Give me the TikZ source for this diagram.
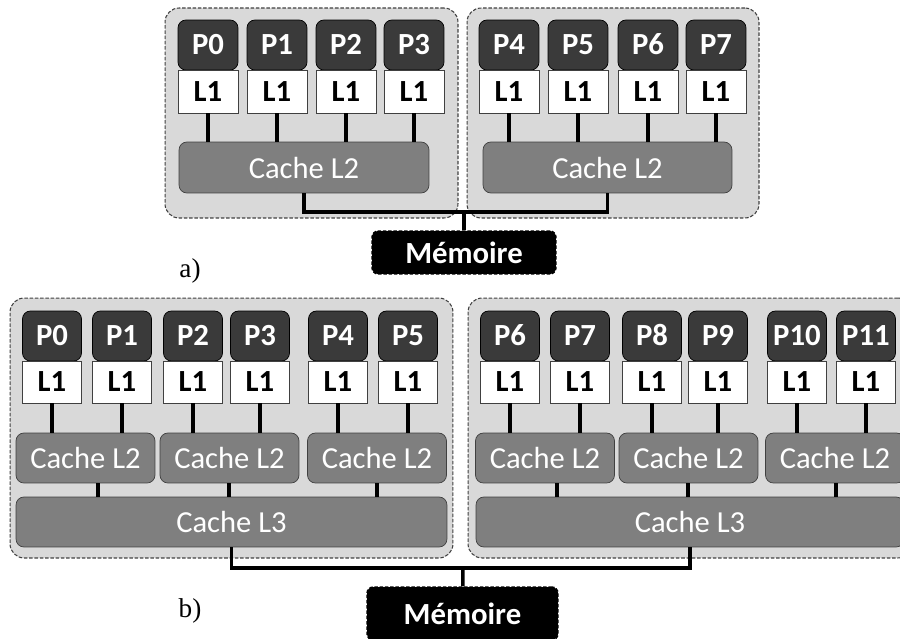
\documentclass[tikz,border=0pt]{standalone}
\usepackage{fontspec}
\setmainfont{Carlito}[Numbers=Lining]
\newfontfamily\serifabc{Liberation Serif}
\definecolor{procgray}{HTML}{3A3A3A}
\definecolor{cachegray}{HTML}{7F7F7F}
\definecolor{groupgray}{HTML}{D9D9D9}
\definecolor{edgegray}{HTML}{404040}

\begin{document}
\begin{tikzpicture}[x=0.02cm,y=-0.02cm,
    group/.style={draw=edgegray,dash pattern=on 2pt off 1pt,fill=groupgray,%
      rounded corners=8pt,inner sep=0pt,line width=0.6pt},
    proc/.style={draw=black,fill=procgray,rounded corners=4.5pt,text=white,%
      inner sep=0pt,minimum height=1cm,text height=11.3pt,text depth=0pt,%
      font=\bfseries\fontsize{17.5}{20}\selectfont},
    lone/.style={draw=edgegray,fill=white,inner sep=0pt,%
      text height=11.3pt,text depth=0pt,%
      font=\bfseries\fontsize{17.5}{20}\selectfont},
    cache/.style={draw=edgegray,fill=cachegray,rounded corners=4.5pt,text=white,%
      inner sep=0pt,minimum height=1cm,font=\fontsize{17.4}{20}\selectfont},
    mem/.style={draw=black,dash pattern=on 2pt off 1pt,fill=black,%
      rounded corners=3.5pt,text=white,inner sep=0pt,line width=0.8pt,%
      font=\bfseries\fontsize{17.5}{20}\selectfont},
    wire/.style={line width=2pt}]
  \useasboundingbox (0,0) rectangle (900,639);
  \clip (0,0) rectangle (900,639);

  % a) deux groupes de quatre coeurs
  \node[group,minimum width=5.86cm,minimum height=4.2cm] (aG0) at (311.5,113) {};
  \node[group,minimum width=5.84cm,minimum height=4.2cm] (aG1) at (613,113) {};
  \node[cache,minimum width=5cm,minimum height=1.02cm] (aC0) at (304,167.5) {Cache L2};
  \node[cache,minimum width=4.98cm,minimum height=1.02cm] (aC1) at (607.5,167.5) {Cache L2};
  \foreach \i/\x/\c in {0/208/0,1/277/0,2/346/0,3/414/0,%
    4/509/1,5/578/1,6/648/1,7/716/1}{
    \node[proc,minimum width=1.2cm] (aP\i) at (\x,45) {P\i};
    \node[lone,minimum width=1.2cm,minimum height=0.86cm] (aL\i) at (\x,91.5) {L1};
    \draw[wire] (aL\i.south) -- (aL\i.south |- aC\c.north);
  }
  \node[mem,minimum width=3.68cm,minimum height=0.86cm] (aM) at (464,252.5) {Mémoire};
  \coordinate (aJ) at (464,212);
  \draw[wire] (aC0.south) |- (aJ) -| (aC1.south);
  \draw[wire] (aJ) -- (aM);
  \node[font=\serifabc\fontsize{15.5}{18}\selectfont] (aT) at (190,271) {a)};

  % b) deux groupes de six coeurs avec L3
  \node[group,minimum width=8.86cm,minimum height=5.2cm] (bG0) at (231.5,428) {};
  \node[group,minimum width=8.88cm,minimum height=5.2cm] (bG1) at (690,428) {};
  \node[cache,minimum width=8.62cm] (bD0) at (231.5,522) {Cache L3};
  \node[cache,minimum width=8.56cm] (bD1) at (690,522) {Cache L3};
  \foreach \j/\x/\t/\d in {0/85.5/98/0,1/229.5/229/0,2/377/377/0,%
    3/545/557/1,4/688.5/688/1,5/835/836/1}{
    \node[cache,minimum width=2.78cm] (bC\j) at (\x,458) {Cache L2};
    \draw[wire] (\t,0 |- bC\j.south) -- (\t,0 |- bD\d.north);
  }
  \foreach \i/\x/\c in {0/52/0,1/122/0,2/193/1,3/260/1,4/338/2,5/408/2,%
    6/510/3,7/580/3,8/652/4,9/718/4,10/797/5,11/866/5}{
    \node[proc,minimum width=1.18cm] (bP\i) at (\x,336) {P\i};
    \node[lone,minimum width=1.18cm,minimum height=0.84cm] (bL\i) at (\x,382) {L1};
    \draw[wire] (bL\i.south) -- (bL\i.south |- bC\c.north);
  }
  \node[mem,minimum width=3.82cm,minimum height=1.06cm] (bM) at (462.5,613.5) {Mémoire};
  \coordinate (bJ) at (463,568);
  \draw[wire] (bD0.south) |- (bJ) -| (bD1.south);
  \draw[wire] (bJ) -- (bM);
  \node[font=\serifabc\fontsize{15.5}{18}\selectfont] (bT) at (190,611) {b)};
\end{tikzpicture}
\end{document}
